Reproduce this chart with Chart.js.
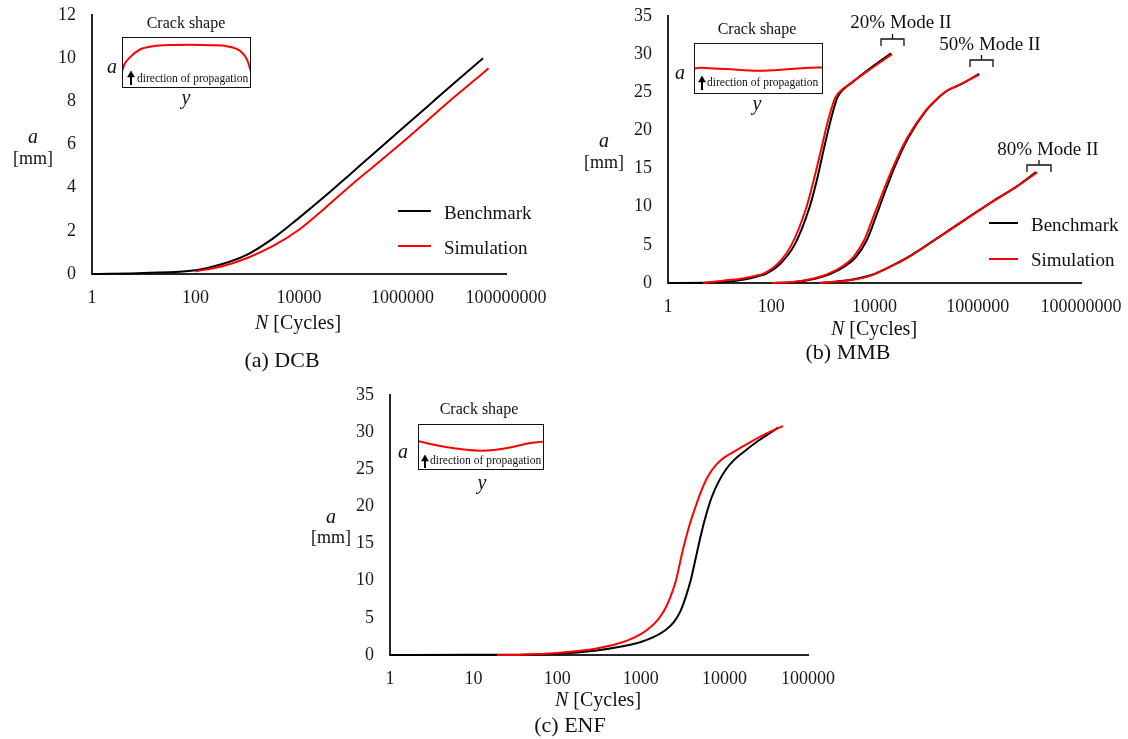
<!DOCTYPE html>
<html>
<head>
<meta charset="utf-8">
<script src="https://cdn.jsdelivr.net/npm/chart.js@4.4.1/dist/chart.umd.min.js"></script>
<style>
html, body { margin: 0; padding: 0; background: #fff; }
body { width: 1128px; height: 739px; position: relative; overflow: hidden;
       font-family: "Liberation Serif", "Times New Roman", serif; color: #111; }
canvas { position: absolute; }
.t { position: absolute; white-space: nowrap; line-height: 1; transform: translate(-50%, -50%); }
.l { position: absolute; white-space: nowrap; line-height: 1; transform: translate(0, -50%); }
.box { position: absolute; border: 1.5px solid #111; box-sizing: border-box; }
.lg { position: absolute; height: 2px; }
.i { font-style: italic; }
</style>
</head>
<body>

<canvas id="chartA" width="560" height="320" style="left:0;top:0"></canvas>
<canvas id="chartB" width="548" height="330" style="left:580px;top:0"></canvas>
<canvas id="chartC" width="560" height="320" style="left:300px;top:380px"></canvas>

<canvas id="insetA" width="129" height="51" style="left:122px;top:37px"></canvas>
<canvas id="insetB" width="129" height="51" style="left:694px;top:43px"></canvas>
<canvas id="insetC" width="126" height="46" style="left:418px;top:424px"></canvas>
<div class="box" style="left:122px;top:37px;width:129px;height:51px"></div>
<div class="box" style="left:694px;top:43px;width:129px;height:51px"></div>
<div class="box" style="left:418px;top:424px;width:126px;height:46px"></div>

<!-- (a) DCB -->
<div class="t i" style="left:33px;top:136px;font-size:20px">a</div>
<div class="t" style="left:33px;top:158px;font-size:18px">[mm]</div>
<div class="t" style="left:298px;top:322px;font-size:20px"><span class="i">N</span> [Cycles]</div>
<div class="t" style="left:282px;top:360px;font-size:22px">(a) DCB</div>
<div class="lg" style="left:398px;top:210px;width:33px;background:#000"></div>
<div class="lg" style="left:398px;top:245px;width:33px;background:#f00"></div>
<div class="l" style="left:444px;top:212px;font-size:19px">Benchmark</div>
<div class="l" style="left:444px;top:247px;font-size:19px">Simulation</div>
<div class="t" style="left:186px;top:23px;font-size:16px">Crack shape</div>
<div class="t i" style="left:112px;top:66px;font-size:20px">a</div>
<div class="t i" style="left:186px;top:97px;font-size:20px">y</div>
<div class="l" style="left:137px;top:79px;font-size:11.5px">direction of propagation</div>

<!-- (b) MMB -->
<div class="t i" style="left:604px;top:140px;font-size:20px">a</div>
<div class="t" style="left:604px;top:162px;font-size:18px">[mm]</div>
<div class="t" style="left:874px;top:328px;font-size:20px"><span class="i">N</span> [Cycles]</div>
<div class="t" style="left:848px;top:352px;font-size:22px">(b) MMB</div>
<div class="lg" style="left:989px;top:222px;width:29px;background:#000"></div>
<div class="lg" style="left:989px;top:258px;width:29px;background:#f00"></div>
<div class="l" style="left:1031px;top:224px;font-size:19px">Benchmark</div>
<div class="l" style="left:1031px;top:259px;font-size:19px">Simulation</div>
<div class="t" style="left:757px;top:29px;font-size:16px">Crack shape</div>
<div class="t i" style="left:680px;top:72px;font-size:20px">a</div>
<div class="t i" style="left:757px;top:103px;font-size:20px">y</div>
<div class="l" style="left:707px;top:83px;font-size:11.5px">direction of propagation</div>
<div class="t" style="left:901px;top:21px;font-size:19px">20% Mode II</div>
<div class="t" style="left:990px;top:43px;font-size:19px">50% Mode II</div>
<div class="t" style="left:1048px;top:148px;font-size:19px">80% Mode II</div>

<!-- (c) ENF -->
<div class="t i" style="left:331px;top:516px;font-size:20px">a</div>
<div class="t" style="left:331px;top:537px;font-size:18px">[mm]</div>
<div class="t" style="left:598px;top:699px;font-size:20px"><span class="i">N</span> [Cycles]</div>
<div class="t" style="left:570px;top:725px;font-size:22px">(c) ENF</div>
<div class="t" style="left:479px;top:409px;font-size:16px">Crack shape</div>
<div class="t i" style="left:403px;top:451px;font-size:20px">a</div>
<div class="t i" style="left:482px;top:482px;font-size:20px">y</div>
<div class="l" style="left:430px;top:461px;font-size:11.5px">direction of propagation</div>

<svg width="1128" height="739" style="position:absolute;left:0;top:0;pointer-events:none">
  <g stroke="#111" stroke-width="1.3" fill="none">
    <path d="M881,46 L881,39 L904,39 L904,46 M892.5,39 L892.5,34"/>
    <path d="M970,67 L970,60 L993,60 L993,67 M981.5,60 L981.5,55"/>
    <path d="M1027,172 L1027,165 L1051,165 L1051,172 M1039,165 L1039,160"/>
  </g>
  <g stroke="#000" stroke-width="2" fill="#000">
    <line x1="131" y1="76" x2="131" y2="85"/>
    <polygon points="127.5,77 134.5,77 131,71" stroke-width="0.5"/>
    <line x1="702" y1="81" x2="702" y2="90"/>
    <polygon points="698.5,82 705.5,82 702,76" stroke-width="0.5"/>
    <line x1="425" y1="460" x2="425" y2="468"/>
    <polygon points="421.5,461 428.5,461 425,455" stroke-width="0.5"/>
  </g>
</svg>

<script>
// (a) DCB
const dcbBenchN = [1, 10, 100, 316, 1000, 3162, 10000, 31623, 100000, 316228, 1000000, 3162278, 10000000, 36000000];
const dcbBenchA = [0, 0.05, 0.17, 0.45, 0.9, 1.65, 2.6, 3.6, 4.65, 5.7, 6.75, 7.8, 8.85, 10.0];
const dcbSimN = [100, 316, 1000, 3162, 10000, 31623, 100000, 316228, 1000000, 3162278, 10000000, 31622777, 46000000];
const dcbSimA = [0.12, 0.35, 0.74, 1.3, 2.05, 3.05, 4.1, 5.1, 6.1, 7.15, 8.2, 9.2, 9.53];
const dcbXTicks = [1, 100, 10000, 1000000, 100000000];

// (b) MMB, three mode mixities
const mmb20BenchN = [1, 10, 32, 56, 79, 148, 288, 550, 759, 1023, 1413, 1905, 2512, 3388, 7413, 20893];
const mmb20BenchA = [0, 0.1, 0.5, 0.9, 1.2, 2.5, 5.1, 9.9, 13.4, 17.3, 21.3, 24.3, 25.4, 26.1, 27.9, 30.1];
const mmb20SimN = [4.8, 11.7, 26, 50, 69, 132, 251, 479, 661, 912, 1259, 1738, 2399, 3311, 7413, 21878];
const mmb20SimA = [0, 0.3, 0.57, 0.96, 1.2, 2.5, 5.1, 9.9, 13.4, 17.3, 21.3, 24.3, 25.4, 26.1, 27.8, 30.0];

const mmb50BenchN = [100, 282, 741, 1413, 2692, 4365, 7079, 9772, 15488, 24547, 45709, 100000, 162181, 257040, 426580, 1071519];
const mmb50BenchA = [0, 0.13, 0.6, 1.2, 2.2, 3.4, 5.6, 8.0, 11.7, 15.2, 19.1, 22.6, 24.1, 25.2, 25.9, 27.4];
const mmb50SimN = [102, 251, 661, 1259, 2399, 3890, 6310, 8710, 14125, 22909, 43652, 97724, 158489, 251189, 416869, 1047129];
const mmb50SimA = [0, 0.13, 0.6, 1.2, 2.2, 3.4, 5.6, 8.0, 11.7, 15.2, 19.1, 22.6, 24.1, 25.2, 25.9, 27.3];

const mmb80BenchN = [794, 3311, 8710, 22909, 43652, 83176, 218776, 575440, 2089296, 5623413, 13489629];
const mmb80BenchA = [0, 0.4, 1.05, 2.35, 3.35, 4.55, 6.45, 8.35, 10.85, 12.65, 14.55];
const mmb80SimN = [832, 3311, 8710, 22909, 43652, 83176, 218776, 575440, 2089296, 5623413, 14125375];
const mmb80SimA = [0, 0.35, 1.0, 2.3, 3.3, 4.5, 6.4, 8.3, 10.8, 12.6, 14.5];
const mmbXTicks = [1, 100, 10000, 1000000, 100000000];

// (c) ENF
const enfBenchN = [1, 10, 100, 295, 631, 1000, 1413, 1995, 2512, 2951, 3467, 3981, 4571, 5248, 6026, 7079, 8511, 10471, 13183, 17783, 25119, 33113, 43652];
const enfBenchA = [0, 0.02, 0.18, 0.6, 1.2, 1.75, 2.4, 3.4, 4.5, 5.8, 7.9, 10.2, 13.2, 16.2, 18.8, 21.3, 23.3, 25.0, 26.3, 27.5, 28.8, 29.7, 30.6];
const enfSimN = [19, 40, 100, 200, 316, 501, 708, 1000, 1259, 1585, 1905, 2239, 2630, 3162, 3802, 4467, 5248, 6310, 7943, 10000, 14125, 19953, 31623, 50119];
const enfSimA = [0, 0.05, 0.27, 0.6, 0.95, 1.45, 2.0, 2.8, 3.6, 4.7, 6.0, 7.7, 10.0, 14.0, 17.4, 19.8, 22.0, 24.0, 25.6, 26.6, 27.6, 28.6, 29.8, 30.8];
const enfXTicks = [1, 10, 100, 1000, 10000, 100000];

// crack shape insets: position across width (0..1) and front height (0..1)
const insetAPos = [0, 0.02, 0.057, 0.135, 0.24, 0.4, 0.53, 0.7, 0.81, 0.92, 0.97, 1];
const insetAFront = [0.32, 0.47, 0.59, 0.75, 0.82, 0.845, 0.85, 0.84, 0.82, 0.72, 0.55, 0.32];
const insetBPos = [0, 0.05, 0.12, 0.25, 0.5, 0.75, 0.9, 1];
const insetBFront = [0.5, 0.515, 0.505, 0.49, 0.455, 0.49, 0.515, 0.52];
const insetCPos = [0, 0.1, 0.22, 0.35, 0.49, 0.62, 0.75, 0.88, 1, 1.02];
const insetCFront = [0.63, 0.565, 0.5, 0.45, 0.42, 0.44, 0.5, 0.58, 0.62, 0.63];

const BLACK = '#000000';
const RED = '#ff0000';
const AXIS = '#262626';
const TICK_FONT = { family: 'Liberation Serif', size: 18 };

const toPoints = (xs, ys) => xs.map((x, i) => ({ x, y: ys[i] }));

const series = (xs, ys, color) => ({
    data: toPoints(xs, ys),
    borderColor: color,
    borderWidth: 2,
    pointRadius: 0,
    clip: false,
    cubicInterpolationMode: 'monotone',
    order: color === RED ? 0 : 1,
});

// axis sizes are pinned so the plot area lands where the figure has it
const mainChart = (id, datasets, xTicks, yMax, yStep, box) => {
    return new Chart(document.getElementById(id), {
        type: 'line',
        data: { datasets },
        options: {
            responsive: false,
            animation: false,
            layout: { padding: { top: box.top, right: box.right, left: 0, bottom: 0 } },
            plugins: { legend: { display: false }, tooltip: { enabled: false } },
            scales: {
                x: {
                    type: 'logarithmic',
                    min: xTicks[0],
                    max: xTicks[xTicks.length - 1],
                    grid: { display: false, drawTicks: false },
                    border: { color: AXIS, width: 2 },
                    afterBuildTicks: (s) => { s.ticks = xTicks.map((v) => ({ value: v })); },
                    afterFit: (s) => {
                        s.height = box.xh;
                        s.paddingLeft = 0;
                        s.paddingRight = 0;
                    },
                    ticks: {
                        autoSkip: false,
                        maxRotation: 0,
                        padding: 13,
                        color: '#1a1a1a',
                        font: TICK_FONT,
                        callback: (v) => String(v),
                    },
                },
                y: {
                    min: 0,
                    max: yMax,
                    grid: { display: false, drawTicks: false },
                    border: { color: AXIS, width: 2 },
                    afterFit: (s) => {
                        s.width = box.yw;
                        s.paddingTop = 0;
                        s.paddingBottom = 0;
                    },
                    ticks: { stepSize: yStep, padding: 16, color: '#1a1a1a', font: TICK_FONT },
                },
            },
        },
    });
};

const insetChart = (id, pos, front) => {
    return new Chart(document.getElementById(id), {
        type: 'line',
        data: { datasets: [series(pos, front, RED)] },
        options: {
            responsive: false,
            animation: false,
            layout: { padding: 0 },
            plugins: { legend: { display: false }, tooltip: { enabled: false } },
            scales: {
                x: { type: 'linear', min: 0, max: 1, display: false },
                y: { min: 0, max: 1, display: false },
            },
        },
    });
};

mainChart('chartA', [
    series(dcbBenchN, dcbBenchA, BLACK),
    series(dcbSimN, dcbSimA, RED),
], dcbXTicks, 12, 2, { top: 15, right: 54, yw: 92, xh: 46 });

mainChart('chartB', [
    series(mmb20BenchN, mmb20BenchA, BLACK),
    series(mmb50BenchN, mmb50BenchA, BLACK),
    series(mmb80BenchN, mmb80BenchA, BLACK),
    series(mmb20SimN, mmb20SimA, RED),
    series(mmb50SimN, mmb50SimA, RED),
    series(mmb80SimN, mmb80SimA, RED),
], mmbXTicks, 35, 5, { top: 16, right: 47, yw: 88, xh: 47 });

mainChart('chartC', [
    series(enfBenchN, enfBenchA, BLACK),
    series(enfSimN, enfSimA, RED),
], enfXTicks, 35, 5, { top: 15, right: 52, yw: 90, xh: 45 });

insetChart('insetA', insetAPos, insetAFront);
insetChart('insetB', insetBPos, insetBFront);
insetChart('insetC', insetCPos, insetCFront);
</script>
</body>
</html>
